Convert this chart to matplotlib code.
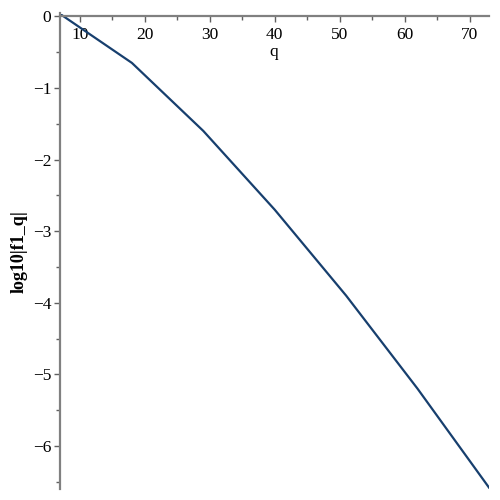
import matplotlib
matplotlib.use('Agg')
import matplotlib.pyplot as plt
from matplotlib.ticker import MultipleLocator

q = [7, 18, 29, 40, 51, 62, 73]
log_f1 = [0.03, -0.65, -1.60, -2.70, -3.90, -5.20, -6.58]

x_ticks = [10, 20, 30, 40, 50, 60, 70]
y_ticks = [0, -1, -2, -3, -4, -5, -6]

plt.rcParams['font.family'] = ['Liberation Serif', 'DejaVu Serif']

fig = plt.figure(figsize=(5, 5), dpi=100)
ax = fig.add_axes([0.119, 0.022, 0.859, 0.951])

ax.plot(q, log_f1, color='#173f6e', linewidth=1.6)

ax.set_xlim(6.85, 73.0)
ax.set_ylim(-6.6, 0.04)

ax.spines['top'].set_visible(False)
ax.spines['right'].set_visible(False)
ax.spines['bottom'].set_position(('data', 0))
for s in ('left', 'bottom'):
    ax.spines[s].set_color('#808080')
    ax.spines[s].set_linewidth(1.6)

ax.set_xticks(x_ticks)
ax.set_yticks(y_ticks)
ax.set_yticklabels(['0' if v == 0 else '\u2212%d' % -v for v in y_ticks])
ax.xaxis.set_minor_locator(MultipleLocator(5))
ax.yaxis.set_minor_locator(MultipleLocator(0.5))
ax.tick_params(which='both', color='#606060', width=1, labelsize=12.5)
ax.tick_params(which='major', length=4)
ax.tick_params(which='minor', length=3)
ax.tick_params(axis='x', pad=4)
ax.tick_params(axis='y', pad=2)

ax.set_xlabel('q', fontsize=12.5)
ax.xaxis.set_label_coords(0.5, 0.935)
ax.set_ylabel('log10|f1_q|', fontsize=13, fontweight='bold')
ax.yaxis.set_label_coords(-0.075, 0.5)

fig.savefig('out.png', dpi=100)
